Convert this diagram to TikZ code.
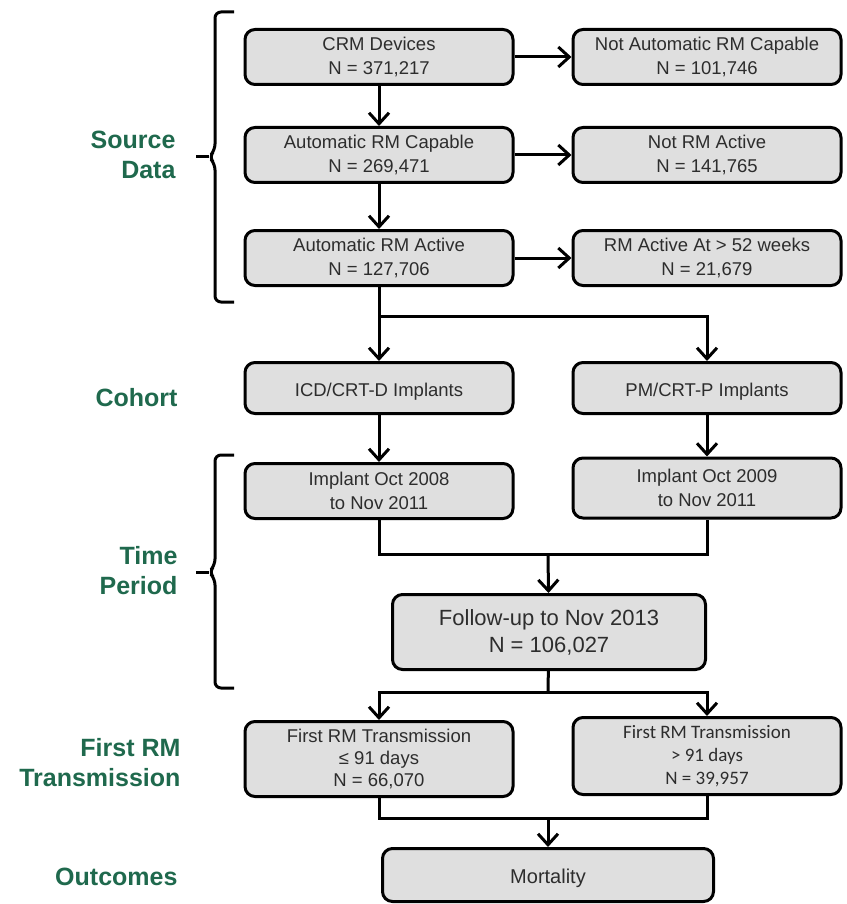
\documentclass[tikz,border=0pt]{standalone}
\usepackage{fontspec}
\setmainfont{Liberation Sans}
\newfontfamily\calibrifont{Carlito}
\usetikzlibrary{arrows.meta}

\definecolor{labelgreen}{RGB}{31,105,77}
\definecolor{boxgray}{RGB}{223,223,223}
\definecolor{textgray}{RGB}{45,45,45}

\begin{document}
\begin{tikzpicture}[x=1pt,y=-1pt,
  box/.style={draw=black,line width=3pt,fill=boxgray,rounded corners=10pt,
    minimum width=268pt,minimum height=55pt,align=center,text=textgray,
    execute at begin node={\rule{0pt}{21pt}},font=\fontsize{18.5}{24}\selectfont},
  bigbox/.style={box,font=\fontsize{22}{27}\selectfont},
  stage/.style={anchor=east,align=right,text=labelgreen,
    font=\fontsize{25}{30}\selectfont\bfseries},
  arr/.style={line width=3pt,-{Straight Barb[length=11pt,width=20pt,line width=3pt]}},
  link/.style={line width=3pt},
  brace/.style={line width=3pt,rounded corners=6pt}]
   \useasboundingbox (0,0) rectangle (846,904);
   % stage labels
   \node[stage] (lsource) at (179,155) {Source\\Data};
   \node[stage] (lcohort) at (181,398) {Cohort};
   \node[stage] (ltime) at (181,571) {Time\\Period};
   \node[stage] (lfirst) at (184,763) {First RM\\Transmission};
   \node[stage] (lout) at (181,877) {Outcomes};
   % braces
   \draw[brace] (234,12) -- (215,12) -- (215,150) -- (209,157) -- (215,164) -- (215,302) -- (234,302);
   \draw[brace] (209,157) -- (196,157);
   \draw[brace] (234,455) -- (215,455) -- (215,565) -- (209,572) -- (215,579) -- (215,688) -- (234,688);
   \draw[brace] (209,572) -- (196,572);
   % source data
   \node[box] (crm) at (379,57) {CRM Devices\\N = 371,217};
   \node[box] (notcap) at (707,57) {Not Automatic RM Capable\\N = 101,746};
   \node[box] (cap) at (379,155) {Automatic RM Capable\\N = 269,471};
   \node[box] (notact) at (707,155) {Not RM Active\\N = 141,765};
   \node[box] (active) at (379,258) {Automatic RM Active\\N = 127,706};
   \node[box] (late) at (707,258) {RM Active At \textgreater{} 52 weeks\\N = 21,679};
   % cohort and time period
   \node[box,minimum height=51pt] (icd) at (379,388) {ICD/CRT-D Implants};
   \node[box,minimum height=51pt] (pm) at (707,388) {PM/CRT-P Implants};
   \node[box,minimum height=55pt] (impl08) at (379,491) {Implant Oct 2008\\to Nov 2011};
   \node[box,minimum height=60pt] (impl09) at (707,488) {Implant Oct 2009\\to Nov 2011};
   \node[bigbox,minimum width=313pt,minimum height=75pt] (follow) at (549,632) {Follow-up to Nov 2013\\N = 106,027};
   % first transmission and outcome
   \node[box,minimum height=75pt,font=\fontsize{18.5}{22}\selectfont] (trans1) at (379,759) {First RM Transmission\\≤ 91 days\\N = 66,070};
   \node[box,minimum height=77pt,font=\calibrifont\fontsize{19}{23}\selectfont] (trans2) at (707,756) {First RM Transmission\\\textgreater{} 91 days\\N = 39,957};
   \node[box,minimum width=331pt,minimum height=53pt,font=\fontsize{20}{24}\selectfont] (mort) at (548,875) {Mortality};
   % connectors
   \coordinate (split1) at (379,316);
   \coordinate (join1) at (548,554);
   \coordinate (split2) at (548,692);
   \coordinate (join2) at (548,818);
   \draw[arr] (crm) -- (notcap);
   \draw[arr] (cap) -- (notact);
   \draw[arr] (active) -- (late);
   \draw[arr] (crm) -- (cap);
   \draw[arr] (cap) -- (active);
   \draw[arr] (active) -- (icd);
   \draw[arr] (split1) -| (pm);
   \draw[arr] (icd) -- (impl08);
   \draw[arr] (pm) -- (impl09);
   \draw[link] (impl08) |- (join1) -| (impl09);
   \draw[arr] (join1) -- (follow);
   \draw[link] (follow) -- (split2);
   \draw[arr] (split2) -| (trans1);
   \draw[arr] (split2) -| (trans2);
   \draw[link] (trans1) |- (join2) -| (trans2);
   \draw[arr] (join2) -- (mort);
\end{tikzpicture}
\end{document}
